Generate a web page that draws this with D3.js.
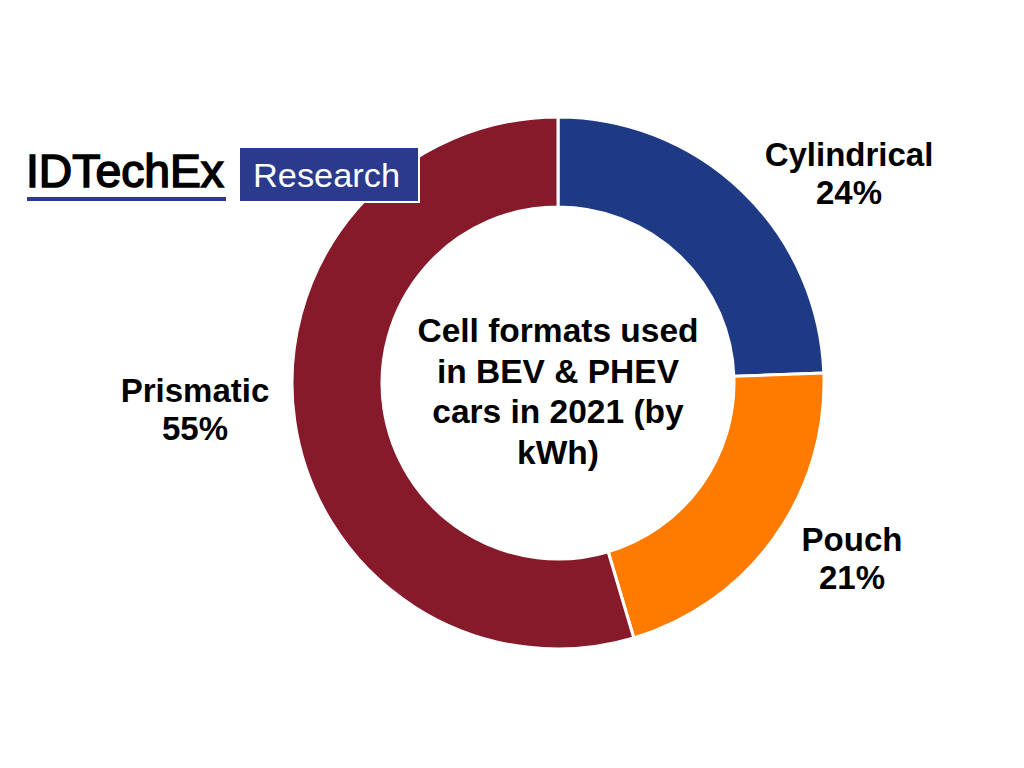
<!DOCTYPE html>
<html lang='en'>
  <head>
    <meta charset='utf-8'>
    <title>Cell formats used in BEV &amp; PHEV cars in 2021</title>
    <script src="https://d3js.org/d3.v7.min.js" charset='utf-8'></script>
    <style type="text/css">
      html, body { margin: 0; padding: 0; background: #fff; }
      svg { display: block; }
      text { font-family: "Liberation Sans", Arial, sans-serif; }
      .label { font-size: 33px; font-weight: bold; fill: #000; text-anchor: middle; }
    </style>
  </head>
  <body>
    <script type="text/javascript">
      var categories = ['Cylindrical', 'Pouch', 'Prismatic'];
      var shares = [24.4, 21.0, 54.6];
      var colours = ['#1f3a85', '#ff7b00', '#861a2b'];
      var titleLines = ['Cell formats used', 'in BEV & PHEV', 'cars in 2021 (by', 'kWh)'];

      var width = 1024, height = 768;
      var cx = 558, cy = 383, outerR = 266, innerR = 176;

      // where each outside label sits, relative to the centre
      var labelOffsets = { Cylindrical: [291, -217], Pouch: [294, 168], Prismatic: [-363, 19] };

      var svg = d3.select('body').append('svg')
        .attr('width', width)
        .attr('height', height);

      var pie = d3.pie().sort(null).value(function(d) { return d.value; });
      var arc = d3.arc().innerRadius(innerR).outerRadius(outerR);

      var data = categories.map(function(c, i) { return { name: c, value: shares[i], colour: colours[i] }; });

      var g = svg.append('g').attr('transform', 'translate(' + cx + ',' + cy + ')');

      g.selectAll('path.slice')
        .data(pie(data))
        .enter().append('path')
        .attr('class', 'slice')
        .attr('d', arc)
        .attr('fill', function(d) { return d.data.colour; })
        .attr('stroke', '#fff')
        .attr('stroke-width', 3);

      // outside labels: name + percentage
      var labels = g.selectAll('text.label')
        .data(pie(data))
        .enter().append('text')
        .attr('class', 'label')
        .attr('transform', function(d) {
          var o = labelOffsets[d.data.name];
          return 'translate(' + o[0] + ',' + o[1] + ')';
        });
      labels.append('tspan').attr('x', 0).attr('y', 0).text(function(d) { return d.data.name; });
      labels.append('tspan').attr('x', 0).attr('dy', 38).text(function(d) { return Math.round(d.data.value) + '%'; });

      // centre title
      var title = g.append('text')
        .attr('class', 'label')
        .style('font-size', '33.5px');
      title.selectAll('tspan')
        .data(titleLines)
        .enter().append('tspan')
        .attr('x', 0)
        .attr('y', function(d, i) { return -41 + i * 40.5; })
        .text(function(d) { return d; });

      // logo
      var logo = svg.append('g');
      logo.append('text')
        .attr('x', 26)
        .attr('y', 187)
        .attr('font-size', 46)
        .attr('fill', '#000')
        .attr('stroke', '#000')
        .attr('stroke-width', 1.6)
        .attr('textLength', 198)
        .attr('lengthAdjust', 'spacingAndGlyphs')
        .text('IDTechEx');
      logo.append('rect')
        .attr('x', 27).attr('y', 197)
        .attr('width', 199).attr('height', 4)
        .attr('fill', '#2b3a8c');
      logo.append('rect')
        .attr('x', 239).attr('y', 147)
        .attr('width', 180).attr('height', 55)
        .attr('fill', '#2b3a8c')
        .attr('stroke', '#fff')
        .attr('stroke-width', 2);
      logo.append('text')
        .attr('x', 253)
        .attr('y', 187)
        .attr('font-size', 33)
        .attr('fill', '#fff')
        .attr('textLength', 147)
        .attr('lengthAdjust', 'spacingAndGlyphs')
        .text('Research');
    </script>
  </body>
</html>
